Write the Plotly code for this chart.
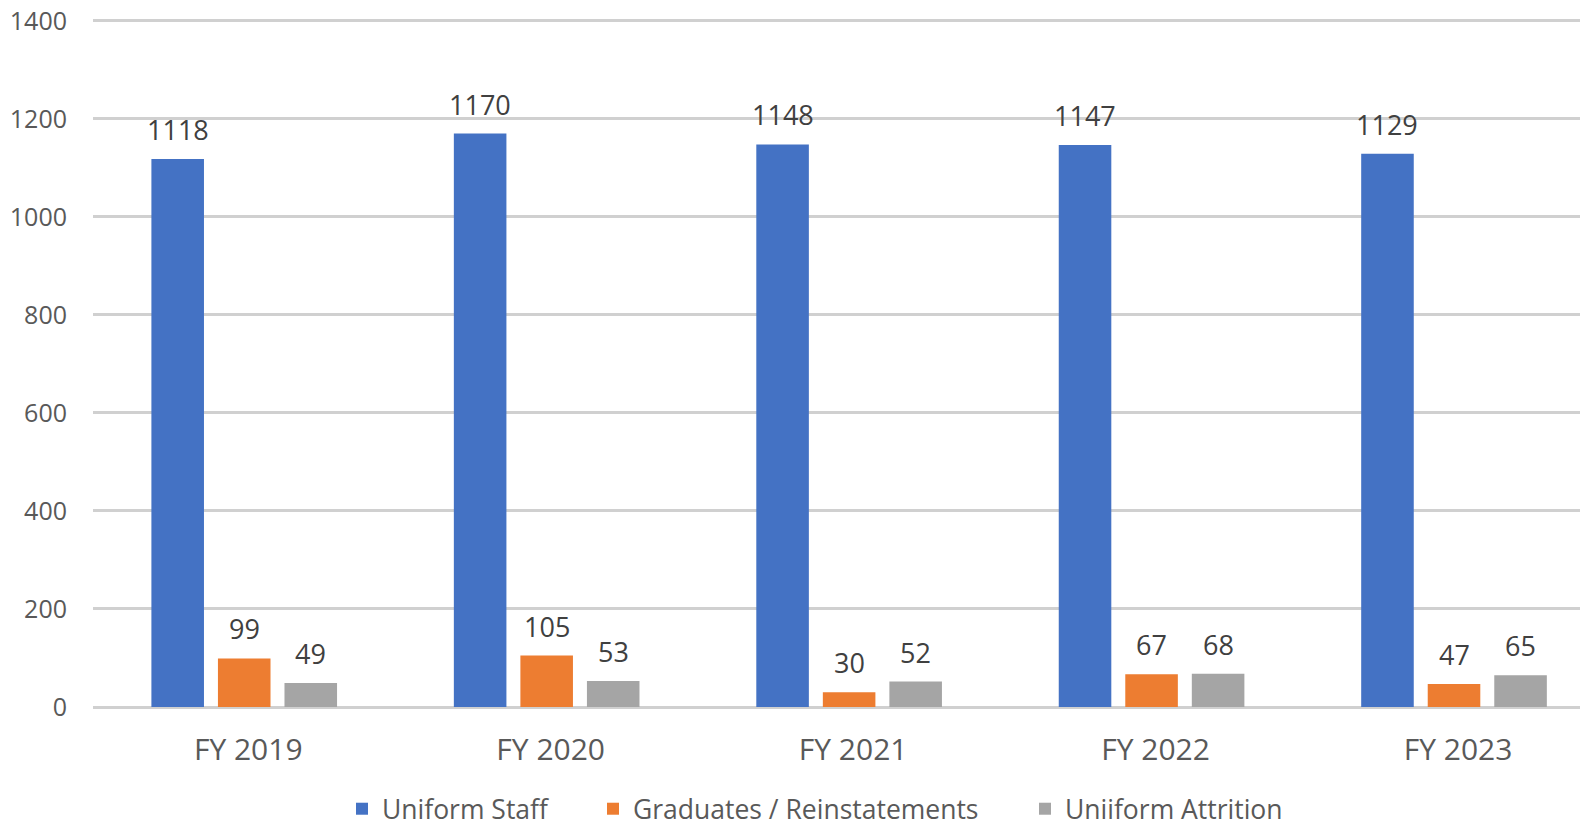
import plotly.graph_objects as go

categories = ["FY 2019", "FY 2020", "FY 2021", "FY 2022", "FY 2023"]
uniform_staff = [1118, 1170, 1148, 1147, 1129]
graduates = [99, 105, 30, 67, 47]
attrition = [49, 53, 52, 68, 65]
series_names = ["Uniform Staff", "Graduates / Reinstatements", "Uniiform Attrition"]
colors = ["#4472C4", "#ED7D31", "#A5A5A5"]
y_ticks = [0, 200, 400, 600, 800, 1000, 1200, 1400]

FONT = "Open Sans"
BARGAP = 0.34
GROUPGAP = 0.21
# page body has an 8px default margin, so the figure is drawn 8px in from the top-left
W, H = 1580, 820
legend_left_px = [334, 585, 1017]
legend_names = ["legend", "legend2", "legend3"]

fig = go.Figure()
all_series = [uniform_staff, graduates, attrition]
for name, vals, col, lg in zip(series_names, all_series, colors, legend_names):
    fig.add_trace(go.Bar(x=categories, y=vals, name=name, marker_color=col,
                         marker_line_width=0, legend=lg))

slot = (1 - BARGAP) / 3
annotations = []
for k, vals in enumerate(all_series):
    for i, v in enumerate(vals):
        annotations.append(dict(x=i + (k - 1) * slot, y=v, xref="x", yref="y",
                                text=str(v), showarrow=False, yanchor="bottom",
                                yshift=9,
                                font=dict(family=FONT, size=27, color="#404040")))

legend_style = dict(orientation="h", xref="container", yref="container", xanchor="left",
                    yanchor="middle", y=1 - 801 / H,
                    font=dict(family=FONT, size=26.5, color="#595959"), itemwidth=30,
                    bgcolor="rgba(0,0,0,0)")
legends = {}
for lg, px in zip(legend_names, legend_left_px):
    legends[lg] = dict(legend_style, x=px / W)

fig.update_layout(
    width=W, height=H,
    margin=dict(l=85, r=0, t=8, b=121, autoexpand=False),
    paper_bgcolor="white", plot_bgcolor="white",
    barmode="group", bargap=BARGAP, bargroupgap=GROUPGAP,
    annotations=annotations,
    showlegend=True,
    **legends,
    xaxis=dict(type="category", range=[-0.5, 4.443], showgrid=False, showline=False,
               ticks="", tickfont=dict(family=FONT, size=30, color="#595959"),
               ticklabelstandoff=22, ticklabelshift=4, automargin=False),
    yaxis=dict(range=[0, 1410], tickvals=y_ticks, showgrid=True, gridcolor="#D0D0D0",
               gridwidth=2.5, zeroline=True, zerolinecolor="#D0D0D0", zerolinewidth=2.5,
               showline=False, ticks="", ticklabelstandoff=25, automargin=False,
               ticklabeloverflow="allow",
               tickfont=dict(family=FONT, size=25, color="#595959")),
)

fig.write_html("out.html")
